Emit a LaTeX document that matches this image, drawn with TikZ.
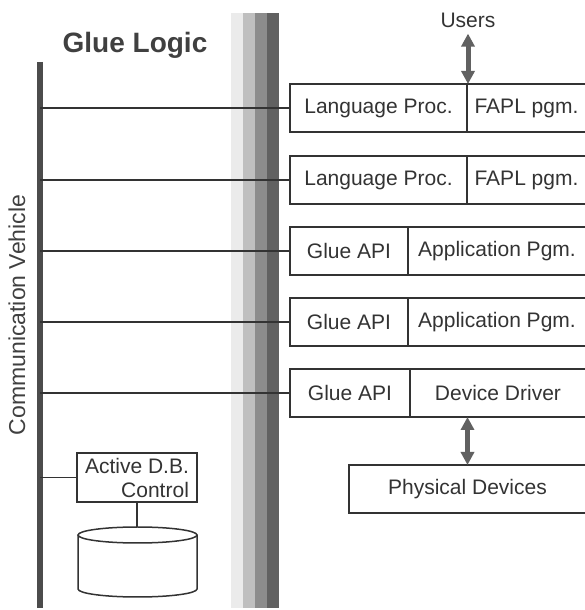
\documentclass[tikz,border=0pt]{standalone}
\usepackage{fontspec}
\setmainfont{Liberation Sans}
\usetikzlibrary{arrows.meta, positioning, shapes.geometric}

\tikzset{
  cell/.style={draw=black!80, line width=0.75pt, outer sep=0pt, inner sep=0pt,
    minimum height=24pt, text=black!80, font=\fontsize{10.5}{12}\selectfont},
  link/.style={draw=black!80, line width=0.75pt},
  bus/.style={draw=black!70, line width=3pt},
  flow/.style={draw=black!62, line width=2.5pt,
    {Triangle[width=6.5pt,length=6.5pt]}-{Triangle[width=6.5pt,length=6.5pt]}},
}

\begin{document}
\begin{tikzpicture}[x=0.5pt, y=0.5pt]
  \useasboundingbox (0,0) rectangle (584,610);

  % shaded band
  \foreach \xa/\tone in {231/8, 243/25, 255/45, 267/62}
    \fill[black!\tone] (\xa,2) rectangle ++(12,595);

  % title
  \node[text=black!75, font=\fontsize{14}{16}\selectfont\bfseries] (title) at (135,565) {Glue Logic};

  % communication vehicle
  \coordinate (bustop) at (40,548);
  \coordinate (busbot) at (40,2);
  \draw[bus] (bustop) -- (busbot);
  \node[rotate=90, text=black!75, font=\fontsize{11.5}{13}\selectfont] (vehicle) at (17,295) {Communication Vehicle};

  % processes
  \node[cell, minimum width=88.5pt] (lang1) at (378.5,502) {Language Proc.};
  \node[cell, minimum width=59.5pt, right=0pt of lang1] (fapl1) {FAPL pgm.};
  \node[cell, minimum width=88.5pt] (lang2) at (378.5,430) {Language Proc.};
  \node[cell, minimum width=59.5pt, right=0pt of lang2] (fapl2) {FAPL pgm.};
  \node[cell, minimum width=59pt] (api1) at (349,359) {Glue API};
  \node[cell, minimum width=89pt, right=0pt of api1] (app1) {Application Pgm.};
  \node[cell, minimum width=59pt] (api2) at (349,288) {Glue API};
  \node[cell, minimum width=89pt, right=0pt of api2] (app2) {Application Pgm.};
  \node[cell, minimum width=60pt] (api3) at (350,217) {Glue API};
  \node[cell, minimum width=88pt, right=0pt of api3] (drv) {Device Driver};

  % users and devices
  \node[anchor=base, inner sep=2.5pt, text=black!80, font=\fontsize{10.5}{12}\selectfont] (users) at (468,582) {Users};
  \node[cell, minimum width=118.5pt] (phys) at (467.5,121) {Physical Devices};
  \draw[flow] (users.south) -- (users.south |- fapl1.north);
  \draw[flow] (phys.north) -- (phys.north |- drv.south);

  % active database
  \node[cell, minimum width=60pt, minimum height=24.5pt, align=right] (adb) at (137,132.5) {Active D.B.\\Control};
  \coordinate (dbtop) at (137,83);
  \draw[link] (78,75) -- (78,21) arc[start angle=180, end angle=360, x radius=59.5, y radius=8] -- (197,75);
  \draw[link] (137.5,75) ellipse [x radius=59.5, y radius=8];
  \draw[link] (adb.south) -- (dbtop);

  % links to the bus
  \foreach \cellname in {lang1, lang2, api1, api2, api3, adb}
    \draw[link] (\cellname.west) -- (\cellname.west -| bustop);
\end{tikzpicture}
\end{document}
